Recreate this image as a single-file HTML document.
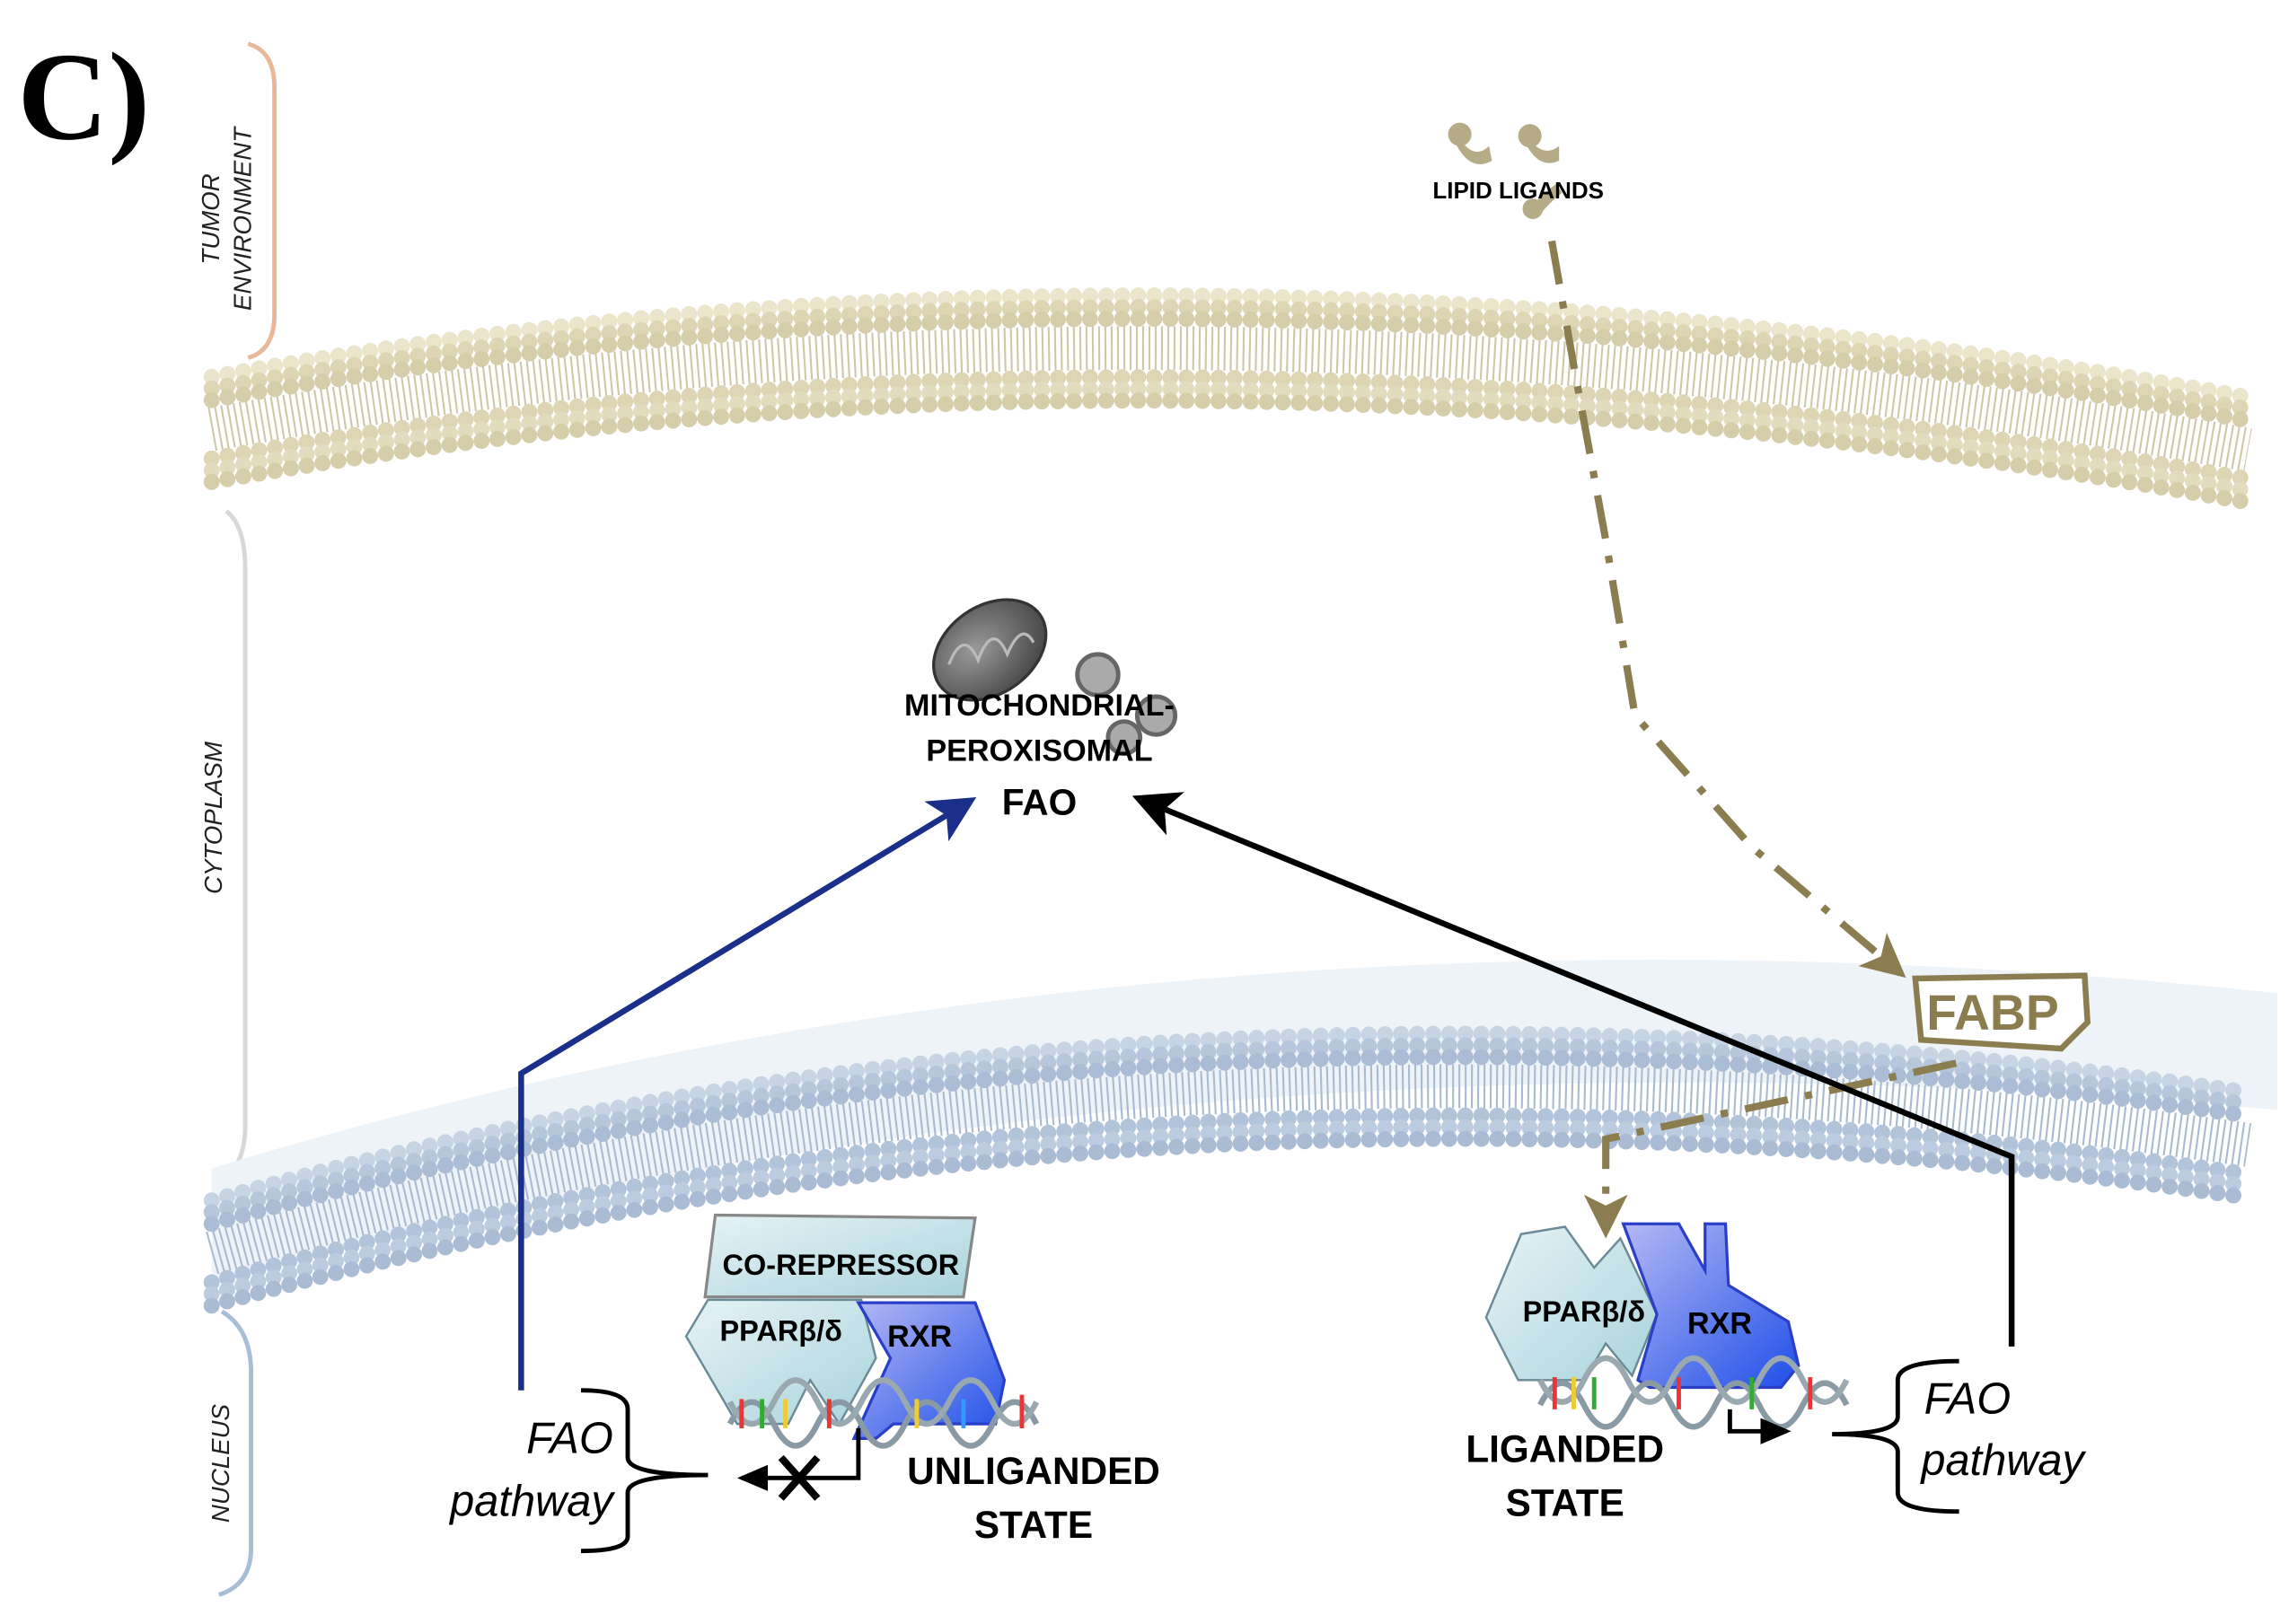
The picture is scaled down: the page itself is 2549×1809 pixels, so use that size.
<!DOCTYPE html>
<html><head><meta charset="utf-8"><style>
html,body{margin:0;padding:0;background:#fff;}
svg{display:block;}
text{font-family:"Liberation Sans Narrow","Liberation Sans",sans-serif;}
</style></head><body>
<svg width="2549" height="1809" viewBox="0 0 1568 1112" preserveAspectRatio="none" xmlns="http://www.w3.org/2000/svg">
<defs>
<marker id="ab" markerWidth="8" markerHeight="8" refX="6" refY="4" orient="auto" markerUnits="strokeWidth"><path d="M0,0 L8,4 L0,8 L2,4z" fill="#1a2f8a"/></marker>
<marker id="ak" markerWidth="8" markerHeight="8" refX="6" refY="4" orient="auto" markerUnits="strokeWidth"><path d="M0,0 L8,4 L0,8 L2,4z" fill="#000"/></marker>
<marker id="ao" markerWidth="6" markerHeight="6" refX="4" refY="3" orient="auto" markerUnits="strokeWidth"><path d="M0,0 L6,3 L0,6 L1.5,3z" fill="#8b7d50"/></marker>
<marker id="as" markerWidth="8" markerHeight="8" refX="6" refY="4" orient="auto" markerUnits="strokeWidth"><path d="M0,1 L7,4 L0,7z" fill="#000"/></marker>
<linearGradient id="cy" x1="0" y1="0" x2="1" y2="1"><stop offset="0" stop-color="#e6f3f6"/><stop offset="1" stop-color="#a9d3dc"/></linearGradient>
<linearGradient id="bl" x1="0" y1="0" x2="1" y2="1"><stop offset="0" stop-color="#b4b8f4"/><stop offset="1" stop-color="#1f4fe8"/></linearGradient>
<radialGradient id="mg" cx="0.4" cy="0.4" r="0.7"><stop offset="0" stop-color="#9a9a9a"/><stop offset="1" stop-color="#404040"/></radialGradient>
<path id="cm" d="M145,258 Q800,140 1540,272"/>
<path id="nm" d="M145,822 Q800,640 1540,748"/>
</defs>

<text x="12" y="95" font-weight="bold" font-size="86" style="font-family:'Liberation Serif',serif">C)</text>

<path d="M170,30 Q188,35 188,60 L188,215 Q188,240 170,245" fill="none" stroke="#e8b898" stroke-width="3"/>
<text transform="translate(150,150) rotate(-90)" text-anchor="middle" font-size="17" font-style="italic" fill="#222" style="font-family:'Liberation Sans',sans-serif">TUMOR</text>
<text transform="translate(172,150) rotate(-90)" text-anchor="middle" font-size="17" font-style="italic" fill="#222" style="font-family:'Liberation Sans',sans-serif">ENVIRONMENT</text>
<path d="M155,350 Q168,360 168,390 L168,770 Q168,800 150,808" fill="none" stroke="#d8d8d8" stroke-width="3"/>
<text transform="translate(152,560) rotate(-90)" text-anchor="middle" font-size="17" font-style="italic" fill="#222" style="font-family:'Liberation Sans',sans-serif">CYTOPLASM</text>
<path d="M152,898 Q172,910 172,940 L172,1060 Q172,1085 150,1092" fill="none" stroke="#a8bdd6" stroke-width="3"/>
<text transform="translate(157,1002) rotate(-90)" text-anchor="middle" font-size="17" font-style="italic" fill="#222" style="font-family:'Liberation Sans',sans-serif">NUCLEUS</text>

<path d="M145,800 Q800,600 1560,680 L1560,760 Q800,690 145,880z" fill="#eef3f8"/>

<!-- cell membrane -->
<g fill="none">
<use href="#cm" transform="translate(0,36)" stroke="#cfc8a8" stroke-width="30" stroke-dasharray="1.3 3"/>
<g stroke-linecap="round" stroke-width="11" stroke-dasharray="0 11">
<use href="#cm" stroke="#ebe5cc"/>
<use href="#cm" transform="translate(0,8)" stroke="#ddd5b3"/>
<use href="#cm" transform="translate(0,16)" stroke="#d6ceaa"/>
<use href="#cm" transform="translate(0,56)" stroke="#ddd5b3"/>
<use href="#cm" transform="translate(0,64)" stroke="#e2dbbd"/>
<use href="#cm" transform="translate(0,72)" stroke="#d6ceaa"/>
</g></g>

<!-- nuclear membrane -->
<g fill="none">
<use href="#nm" transform="translate(0,36)" stroke="#a8bbd2" stroke-width="30" stroke-dasharray="1.3 3"/>
<g stroke-linecap="round" stroke-width="11" stroke-dasharray="0 11">
<use href="#nm" stroke="#c6d4e4"/>
<use href="#nm" transform="translate(0,8)" stroke="#b6c7dc"/>
<use href="#nm" transform="translate(0,16)" stroke="#aabdd4"/>
<use href="#nm" transform="translate(0,56)" stroke="#b2c4da"/>
<use href="#nm" transform="translate(0,64)" stroke="#bccce0"/>
<use href="#nm" transform="translate(0,72)" stroke="#a9bcd4"/>
</g></g>

<g fill="#b5ab86">
<circle cx="1000" cy="92" r="8"/><path d="M1000,95 Q1010,110 1020,100 L1022,110 Q1008,118 998,100z"/>
<circle cx="1048" cy="93" r="8"/><path d="M1048,96 Q1058,108 1068,100 L1068,110 Q1055,116 1046,100z"/>
<circle cx="1050" cy="143" r="7"/><path d="M1050,140 Q1060,130 1066,126 L1070,132 Q1060,140 1054,148z"/>
</g>
<text x="1040" y="136" text-anchor="middle" font-size="16" font-weight="bold">LIPID LIGANDS</text>

<path d="M1063,165 L1078,250 L1100,370 L1120,490 L1200,580 L1298,663" fill="none" stroke="#8b7d50" stroke-width="5" stroke-dasharray="30 12 5 12" marker-end="url(#ao)"/>
<path d="M1340,728 L1100,780 L1100,838" fill="none" stroke="#8b7d50" stroke-width="5" stroke-dasharray="30 12 5 12" marker-end="url(#ao)"/>

<path d="M1312,670 L1428,668 L1430,700 L1412,718 L1316,712z" fill="#fff" stroke="#8b7d50" stroke-width="4"/>
<text x="1365" y="705" text-anchor="middle" font-size="34" font-weight="bold" fill="#8b7d50">FABP</text>

<ellipse cx="678" cy="445" rx="42" ry="30" transform="rotate(-35 678 445)" fill="url(#mg)" stroke="#333" stroke-width="2"/>
<path d="M650,455 Q660,430 670,452 Q680,425 690,448 Q700,425 708,440" fill="none" stroke="#bbb" stroke-width="2"/>
<circle cx="752" cy="462" r="14" fill="#aaa" stroke="#666" stroke-width="3"/>
<circle cx="792" cy="490" r="13" fill="#aaa" stroke="#666" stroke-width="3"/>
<circle cx="770" cy="505" r="11" fill="#aaa" stroke="#666" stroke-width="3"/>
<text x="712" y="490" text-anchor="middle" font-size="21" font-weight="bold">MITOCHONDRIAL-</text>
<text x="712" y="521" text-anchor="middle" font-size="21" font-weight="bold">PEROXISOMAL</text>
<text x="712" y="558" text-anchor="middle" font-size="25" font-weight="bold">FAO</text>

<path d="M357,952 L357,735 L662,550" fill="none" stroke="#1a2f8a" stroke-width="4" marker-end="url(#ab)"/>
<path d="M1378,922 L1378,792 L783,548" fill="none" stroke="#000" stroke-width="4" marker-end="url(#ak)"/>

<path d="M490,832 L668,834 L660,888 L483,888z" fill="url(#cy)" stroke="#888" stroke-width="2"/>
<text x="576" y="873" text-anchor="middle" font-size="20" font-weight="bold">CO-REPRESSOR</text>
<path d="M470,915 L485,890 L590,890 L600,930 L575,975 L555,945 L540,975 L505,975z" fill="url(#cy)" stroke="#6a8a96" stroke-width="1.5"/>
<path d="M588,892 L668,892 L688,945 L682,975 L612,975 L600,985 L585,985 L610,930z" fill="url(#bl)" stroke="#2a3fc8" stroke-width="2"/>
<text x="535" y="918" text-anchor="middle" font-size="20" font-weight="bold">PPARβ/δ</text>
<text x="630" y="922" text-anchor="middle" font-size="21" font-weight="bold">RXR</text>
<g fill="none" stroke-width="4">
<path d="M500,975 Q515,945 530,975 T560,975 T590,975 T620,975 T650,975 T680,975 T710,975" stroke="#8a9aa4"/>
<path d="M500,960 Q515,990 530,960 T560,960 T590,960 T620,960 T650,960 T680,960 T710,960" stroke="#9aa8b0"/>
</g>
<g stroke-width="3"><line x1="508" y1="958" x2="508" y2="978" stroke="#e33"/><line x1="522" y1="958" x2="522" y2="978" stroke="#3a3"/><line x1="538" y1="958" x2="538" y2="978" stroke="#ec3"/><line x1="568" y1="958" x2="568" y2="978" stroke="#e33"/><line x1="628" y1="958" x2="628" y2="978" stroke="#ec3"/><line x1="660" y1="958" x2="660" y2="978" stroke="#39f"/><line x1="700" y1="955" x2="700" y2="978" stroke="#e33"/></g>
<path d="M588,978 L588,1012 L508,1012" fill="none" stroke="#000" stroke-width="3" marker-end="url(#as)"/>
<path d="M535,998 L560,1026 M560,998 L535,1026" stroke="#000" stroke-width="5"/>
<path d="M398,952 Q430,952 430,965 L430,998 Q430,1010 485,1010 Q430,1010 430,1022 L430,1052 Q430,1062 398,1062" fill="none" stroke="#000" stroke-width="3"/>
<text x="420" y="995" text-anchor="end" font-size="30" font-style="italic" style="font-family:'Liberation Sans',sans-serif">FAO</text>
<text x="420" y="1038" text-anchor="end" font-size="30" font-style="italic" style="font-family:'Liberation Sans',sans-serif">pathway</text>
<text x="708" y="1016" text-anchor="middle" font-size="26" font-weight="bold">UNLIGANDED</text>
<text x="708" y="1053" text-anchor="middle" font-size="26" font-weight="bold">STATE</text>

<path d="M1018,902 L1042,845 L1072,840 L1092,868 L1110,848 L1135,900 L1118,942 L1100,920 L1085,945 L1040,945z" fill="url(#cy)" stroke="#6a8a96" stroke-width="1.5"/>
<path d="M1112,838 L1150,838 L1168,870 L1168,838 L1182,838 L1184,880 L1225,905 L1232,935 L1220,950 L1130,950 L1122,945 L1135,900z" fill="url(#bl)" stroke="#2a3fc8" stroke-width="2"/>
<text x="1085" y="905" text-anchor="middle" font-size="20" font-weight="bold">PPARβ/δ</text>
<text x="1178" y="913" text-anchor="middle" font-size="21" font-weight="bold">RXR</text>
<g fill="none" stroke-width="4">
<path d="M1055,962 Q1070,932 1085,962 T1115,962 T1145,962 T1175,962 T1205,962 T1235,962 T1265,962" stroke="#8a9aa4"/>
<path d="M1055,945 Q1070,975 1085,945 T1115,945 T1145,945 T1175,945 T1205,945 T1235,945 T1265,945" stroke="#9aa8b0"/>
</g>
<g stroke-width="3"><line x1="1065" y1="943" x2="1065" y2="965" stroke="#e33"/><line x1="1078" y1="943" x2="1078" y2="965" stroke="#ec3"/><line x1="1092" y1="943" x2="1092" y2="965" stroke="#3a3"/><line x1="1150" y1="943" x2="1150" y2="965" stroke="#e33"/><line x1="1200" y1="943" x2="1200" y2="965" stroke="#3a3"/><line x1="1240" y1="943" x2="1240" y2="965" stroke="#e33"/></g>
<path d="M1185,965 L1185,980 L1224,980" fill="none" stroke="#000" stroke-width="3" marker-end="url(#as)"/>
<path d="M1342,932 Q1300,932 1300,945 L1300,970 Q1300,982 1255,982 Q1300,982 1300,994 L1300,1022 Q1300,1035 1342,1035" fill="none" stroke="#000" stroke-width="3"/>
<text x="1318" y="968" font-size="30" font-style="italic" style="font-family:'Liberation Sans',sans-serif">FAO</text>
<text x="1316" y="1010" font-size="30" font-style="italic" style="font-family:'Liberation Sans',sans-serif">pathway</text>
<text x="1072" y="1001" text-anchor="middle" font-size="26" font-weight="bold">LIGANDED</text>
<text x="1072" y="1038" text-anchor="middle" font-size="26" font-weight="bold">STATE</text>
</svg>
</body></html>
